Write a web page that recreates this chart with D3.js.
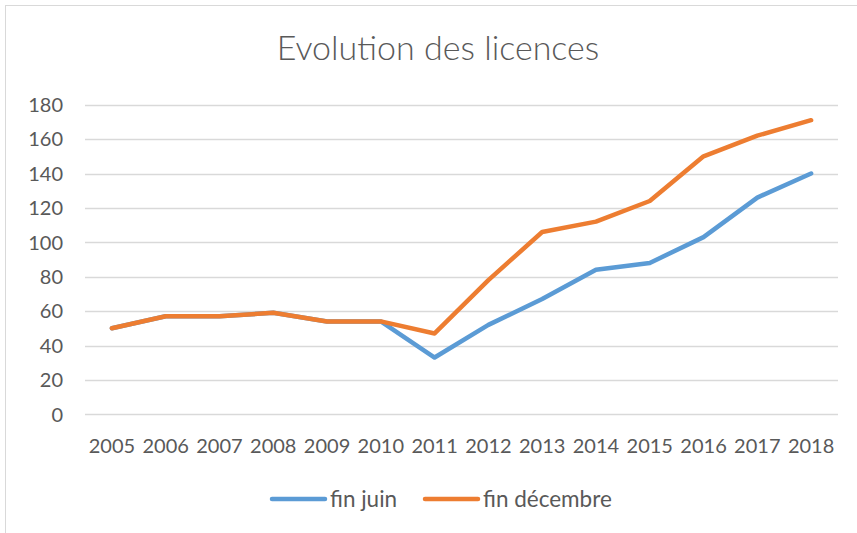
<!DOCTYPE html>
<html>
<head>
<meta charset="utf-8">
<title>Evolution des licences</title>
<script src="https://d3js.org/d3.v7.min.js"></script>
<style>
  body { margin: 0; background: #fff; overflow: hidden; }
  text { font-family: Lato, "Open Sans", sans-serif; fill: #595959; }
</style>
</head>
<body>
<div id="chart"></div>
<script>
// data
var years = ["2005","2006","2007","2008","2009","2010","2011","2012","2013","2014","2015","2016","2017","2018"];
var finJuin = [50, 57, 57, 59, 54, 54, 33, 52, 67, 84, 88, 103, 126, 140];
var finDecembre = [50, 57, 57, 59, 54, 54, 47, 78, 106, 112, 124, 150, 162, 171];
var yTicks = [0, 20, 40, 60, 80, 100, 120, 140, 160, 180];
var seriesNames = ["fin juin", "fin décembre"];
var colors = ["#5B9BD5", "#ED7D31"];

var W = 857, H = 533;
var svg = d3.select("#chart").append("svg").attr("width", W).attr("height", H);

// chart frame (right and bottom edges fall outside the picture)
svg.append("rect")
  .attr("x", 5.5).attr("y", 5.5).attr("width", 900).attr("height", 600)
  .style("fill", "#fff").style("stroke", "#D9D9D9").style("stroke-width", 1);

svg.append("text")
  .attr("x", 438).attr("y", 60)
  .attr("text-anchor", "middle")
  .style("font-size", "34px").style("font-weight", 300)
  .text("Evolution des licences");

var x = d3.scaleBand().domain(years).range([85, 838]);
var y = d3.scaleLinear().domain([0, 180]).range([414.3, 104.7]);

// gridlines
svg.append("g").selectAll("line")
  .data(yTicks).enter().append("line")
  .attr("x1", 85).attr("x2", 838)
  .attr("y1", function(d){ return Math.round(y(d)) + 0.5; })
  .attr("y2", function(d){ return Math.round(y(d)) + 0.5; })
  .style("stroke", "#D9D9D9").style("stroke-width", 1.3);

// y labels
svg.append("g").selectAll("text")
  .data(yTicks).enter().append("text")
  .attr("x", 63).attr("y", function(d){ return y(d); })
  .attr("dy", "0.36em")
  .attr("text-anchor", "end")
  .style("font-size", "20px")
  .text(function(d){ return d; });

// x labels
svg.append("g").selectAll("text")
  .data(years).enter().append("text")
  .attr("x", function(d){ return x(d) + x.bandwidth() / 2; })
  .attr("y", 453)
  .attr("text-anchor", "middle")
  .style("font-size", "20px")
  .text(function(d){ return d; });

var line = d3.line()
  .x(function(d, i){ return x(years[i]) + x.bandwidth() / 2; })
  .y(function(d){ return y(d); });

[finJuin, finDecembre].forEach(function(s, k) {
  svg.append("path")
    .attr("d", line(s))
    .style("fill", "none")
    .style("stroke", colors[k])
    .style("stroke-width", 4.5)
    .style("stroke-linejoin", "round")
    .style("stroke-linecap", "round");
});

// legend
var legendX = [272, 425];
seriesNames.forEach(function(name, k) {
  var g = svg.append("g").attr("transform", "translate(" + legendX[k] + ",499)");
  g.append("line")
    .attr("x1", 0).attr("x2", 53).attr("y1", 0).attr("y2", 0)
    .style("stroke", colors[k]).style("stroke-width", 4.5)
    .style("stroke-linecap", "round");
  g.append("text")
    .attr("x", 58).attr("y", 7.5)
    .style("font-size", "22.5px")
    .text(name);
});
</script>
</body>
</html>
